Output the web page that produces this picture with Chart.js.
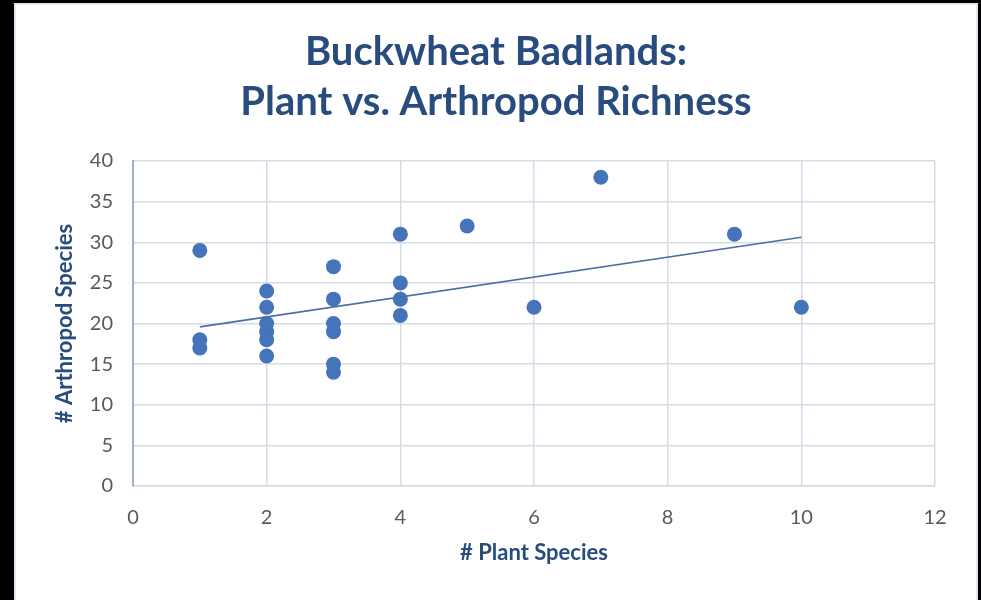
<!DOCTYPE html>
<html>
<head>
<meta charset="utf-8">
<script src="https://cdn.jsdelivr.net/npm/chart.js@4/dist/chart.umd.min.js"></script>
<style>
  html, body { margin: 0; padding: 0; background: #000; }
  #panel {
    position: absolute; left: 14px; top: 3px;
    width: 960px; height: 595px;
    background: #fff;
    border: 2px solid #dfe8f3;
  }
</style>
</head>
<body>
<div id="panel"><canvas id="scatter" width="960" height="595"></canvas></div>
<script>
(function () {
  "use strict";

  // data
  const plantSpecies     = [1, 1, 1, 2, 2, 2, 2, 2, 2, 3, 3, 3, 3, 3, 3, 4, 4, 4, 4, 5, 6, 7, 9, 10];
  const arthropodSpecies = [29, 18, 17, 24, 22, 20, 19, 18, 16, 27, 23, 20, 19, 15, 14, 31, 25, 23, 21, 32, 22, 38, 31, 22];
  const xTicks = [0, 2, 4, 6, 8, 10, 12];
  const yTicks = [0, 5, 10, 15, 20, 25, 30, 35, 40];

  const text_blue  = '#284c7e';
  const text_gray  = '#595959';
  const dot_blue   = '#4674bb';
  const grid_color = '#d6dce6';

  // linear trendline (least squares) over the data
  const n = plantSpecies.length;
  let sx = 0, sy = 0, sxy = 0, sxx = 0;
  for (let i = 0; i < n; i++) {
    sx += plantSpecies[i]; sy += arthropodSpecies[i];
    sxy += plantSpecies[i] * arthropodSpecies[i];
    sxx += plantSpecies[i] * plantSpecies[i];
  }
  const slope = (n * sxy - sx * sy) / (n * sxx - sx * sx);
  const intercept = (sy - slope * sx) / n;
  const xMin = Math.min(...plantSpecies), xMax = Math.max(...plantSpecies);
  const trend = [
    { x: xMin, y: intercept + slope * xMin },
    { x: xMax, y: intercept + slope * xMax }
  ];

  const points = plantSpecies.map((x, i) => ({ x: x, y: arthropodSpecies[i] }));

  new Chart(document.getElementById('scatter'), {
    type: 'scatter',
    data: {
      datasets: [{
        label: 'Trendline',
        type: 'line',
        data: trend,
        borderColor: '#4b6ea3',
        borderWidth: 1.6,
        pointRadius: 0,
        fill: false,
        order: 0
      }, {
        label: 'Sites',
        data: points,
        backgroundColor: dot_blue,
        borderColor: dot_blue,
        pointRadius: 7.5,
        pointBorderWidth: 0,
        order: 1
      }]
    },
    options: {
      responsive: false,
      animation: false,
      layout: { padding: 0 },
      plugins: {
        legend: { display: false },
        tooltip: { enabled: false },
        title: {
          display: true,
          text: ['Buckwheat Badlands:', 'Plant vs. Arthropod Richness'],
          color: text_blue,
          font: { family: 'Lato', size: 40, weight: 'bold', lineHeight: 1.25 },
          padding: { top: 22, bottom: 34 }
        }
      },
      scales: {
        x: {
          type: 'linear',
          min: 0, max: 12,
          afterBuildTicks: (s) => { s.ticks = xTicks.map(v => ({ value: v })); },
          afterFit: (s) => { s.height = 114; },
          grid: { color: grid_color, lineWidth: 1.5, drawTicks: false },
          border: { color: grid_color, width: 1.5 },
          ticks: { color: text_gray, font: { family: 'Lato', size: 20 }, padding: 20 },
          title: {
            display: true, text: '# Plant Species', color: text_blue,
            font: { family: 'Lato', size: 22, weight: 'bold' },
            padding: { top: 8, bottom: 34 }
          }
        },
        y: {
          type: 'linear',
          min: 0, max: 40,
          afterBuildTicks: (s) => { s.ticks = yTicks.map(v => ({ value: v })); },
          afterFit: (s) => { s.width = 117; },
          grid: { color: grid_color, lineWidth: 1.5, drawTicks: false },
          border: { color: '#9fb0c9', width: 2 },
          ticks: { color: text_gray, font: { family: 'Lato', size: 20 }, padding: 20 },
          title: {
            display: true, text: '# Arthropod Species', color: text_blue,
            font: { family: 'Lato', size: 22, weight: 'bold' },
            padding: { top: 36, bottom: 0 }
          }
        },
        // empty right margin so the title stays centred on the panel
        yRight: {
          type: 'linear',
          position: 'right',
          min: 0, max: 40,
          afterFit: (s) => { s.width = 41; },
          grid: { display: false, drawTicks: false },
          border: { display: false },
          ticks: { display: false }
        }
      }
    }
  });
})();
</script>
</body>
</html>
